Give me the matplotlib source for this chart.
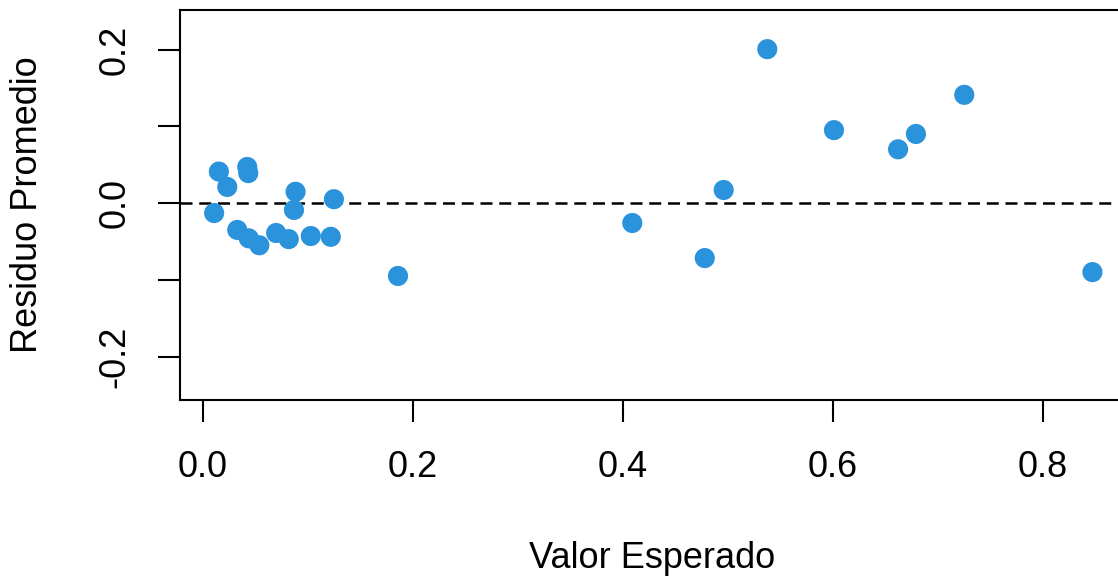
import matplotlib
matplotlib.use("Agg")
import matplotlib.pyplot as plt

valor_esperado = [0.0155, 0.0235, 0.0425, 0.0435, 0.011, 0.0885, 0.087, 0.125,
                  0.033, 0.044, 0.054, 0.070, 0.082, 0.103, 0.122,
                  0.186, 0.409, 0.478, 0.496, 0.5375, 0.601, 0.662, 0.679, 0.725, 0.847]
residuo_promedio = [0.041, 0.021, 0.047, 0.039, -0.013, 0.0147, -0.009, 0.005,
                    -0.035, -0.046, -0.055, -0.039, -0.047, -0.043, -0.044,
                    -0.095, -0.026, -0.0717, 0.017, 0.2005, 0.095, 0.070, 0.090, 0.141, -0.090]

xticks = [0.0, 0.2, 0.4, 0.6, 0.8]
xticklabels = ["0.0", "0.2", "0.4", "0.6", "0.8"]
yticks = [-0.2, -0.1, 0.0, 0.1, 0.2]
yticklabels = ["-0.2", "", "0.0", "", "0.2"]

plt.rcParams['font.family'] = ['Liberation Sans', 'DejaVu Sans']

fig = plt.figure(figsize=(11.18, 5.77), dpi=100)
ax = fig.add_axes([180/1118, 1 - 400/577, (1125 - 180)/1118, (400 - 10)/577])

ax.scatter(valor_esperado, residuo_promedio, s=210, color='#2A93DC', edgecolors='none', zorder=3)
ax.axhline(0, color='black', linestyle=(0, (4.8, 2.7)), linewidth=1.8, zorder=2)

ax.set_xlim(-0.0215, 0.878)
ax.set_ylim(-0.2566, 0.2515)
ax.set_xticks(xticks)
ax.set_xticklabels(xticklabels, fontsize=26)
ax.set_yticks(yticks)
ax.set_yticklabels(yticklabels, fontsize=26, rotation=90, va='center')

ax.tick_params(axis='both', length=16, width=1.5, color='black')
ax.tick_params(axis='x', pad=20)
ax.tick_params(axis='y', pad=18)

for sp in ax.spines.values():
    sp.set_linewidth(1.5)
    sp.set_color('black')

ax.set_xlabel("Valor Esperado", fontsize=26, labelpad=40)
ax.set_ylabel("Residuo Promedio", fontsize=26, labelpad=38)

fig.savefig("out.png", dpi=100)
